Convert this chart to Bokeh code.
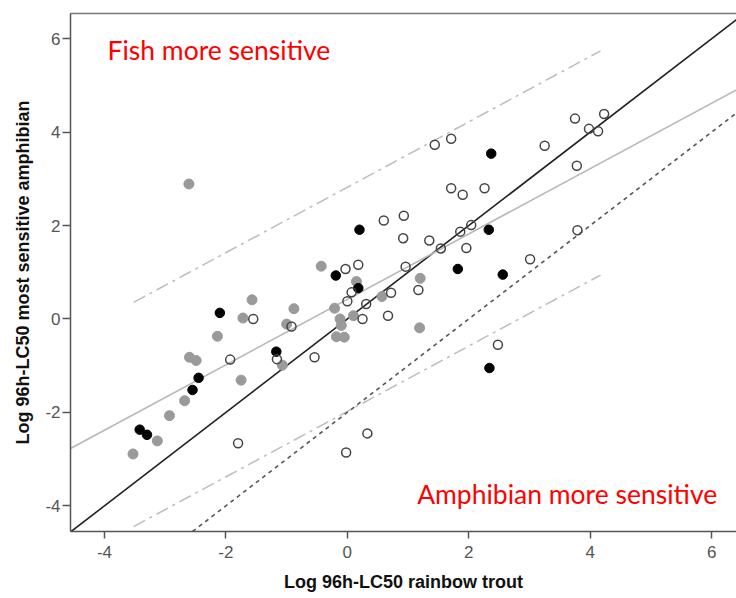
from bokeh.plotting import figure
from bokeh.models import Range1d, LinearAxis, FixedTicker
from bokeh.core.properties import value
from bokeh.embed import file_html
from bokeh.resources import INLINE

# ---- data (log 96h-LC50: rainbow trout vs most sensitive amphibian) ----
gray_x = [-2.61, -1.57, -1.72, -0.88, -2.14, -1.00, -2.60, -2.49, -1.75, -2.68, -2.93, -3.13,
          -3.53, -1.07, -0.43, -0.21, -0.12, -0.10, -0.18, -0.05, 0.15, 0.10, 0.57, 1.20, 1.19]
gray_y = [2.89, 0.41, 0.02, 0.22, -0.37, -0.11, -0.82, -0.89, -1.31, -1.75, -2.07, -2.61,
          -2.89, -0.99, 1.13, 0.23, 0.00, -0.14, -0.38, -0.39, 0.80, 0.07, 0.48, 0.87, -0.19]

black_x = [-2.10, -1.17, -2.45, -2.55, -3.42, -3.30, -0.19, 0.20, 0.18, 2.37, 2.33, 1.82, 2.56, 2.34]
black_y = [0.13, -0.70, -1.26, -1.52, -2.37, -2.48, 0.93, 1.91, 0.66, 3.54, 1.91, 1.07, 0.95, -1.05]

open_x = [-1.55, -0.92, -1.93, -1.16, -0.54, -1.80, -0.02, 0.33, -0.03, 0.18, 0.07, 0.00, 0.31,
          0.25, 0.67, 0.72, 0.60, 0.93, 0.92, 0.96, 1.17, 1.35, 1.54, 1.96, 1.86, 2.04, 1.44,
          1.71, 1.71, 1.90, 2.26, 3.01, 2.48, 3.25, 3.75, 4.23, 3.98, 4.13, 3.78, 3.79]
open_y = [0.00, -0.16, -0.87, -0.86, -0.82, -2.66, -2.86, -2.45, 1.07, 1.16, 0.57, 0.38, 0.32,
          0.00, 0.07, 0.56, 2.11, 2.21, 1.73, 1.12, 0.62, 1.68, 1.51, 1.52, 1.87, 2.01, 3.73,
          3.86, 2.80, 2.66, 2.80, 1.28, -0.55, 3.71, 4.29, 4.39, 4.07, 4.02, 3.28, 1.90]

# regression fit and prediction interval
reg_intercept = 0.42
reg_slope = 0.70
pi_half_width = 2.4
pi_x = [-3.52, 4.17]
# reference lines: 1:1 and 1:1 shifted by -2 (100-fold)
shift = -2.0

x_lo, x_hi = -4.56, 6.41
y_lo, y_hi = -4.55, 6.54

ticks = [-4, -2, 0, 2, 4, 6]
tick_labels = ["-4", "-2", "0", "2", "4", "6"]

label_texts = ["Fish more sensitive", "Amphibian more sensitive"]
label_x = [-3.95, 1.15]
label_y = [5.75, -3.75]

# ---- figure ----
p = figure(width=736, height=598, x_range=Range1d(x_lo, x_hi), y_range=Range1d(y_lo, y_hi),
           output_backend="svg", toolbar_location=None,
           min_border_left=70, min_border_right=0, min_border_top=13, min_border_bottom=67)
p.outline_line_color = None
p.xgrid.visible = False
p.ygrid.visible = False
p.background_fill_color = "white"
p.border_fill_color = "white"

overrides = {t: s for t, s in zip(ticks, tick_labels)}
for ax in (p.xaxis[0], p.yaxis[0]):
    ax.ticker = FixedTicker(ticks=ticks)
    ax.major_label_overrides = overrides
    ax.minor_tick_line_color = None
    ax.axis_line_color = "#555555"
    ax.axis_line_width = 1.5
    ax.major_tick_line_color = "#555555"
    ax.major_tick_line_width = 1.5
    ax.major_tick_in = 0
    ax.major_label_text_font = "Liberation Sans"
    ax.major_label_text_font_size = "17px"
    ax.major_label_text_color = "#555555"
    ax.axis_label_text_font = "Liberation Sans"
    ax.axis_label_text_font_style = "bold"
    ax.axis_label_text_font_size = "18px"
    ax.axis_label_text_color = "#111111"

p.xaxis[0].major_tick_out = 7
p.xaxis[0].major_label_standoff = 7
p.xaxis[0].axis_label = "Log 96h-LC50 rainbow trout"
p.xaxis[0].axis_label_standoff = 11
p.yaxis[0].major_tick_out = 8
p.yaxis[0].major_label_standoff = 2
p.yaxis[0].axis_label = "Log 96h-LC50 most sensitive amphibian"
p.yaxis[0].axis_label_standoff = 9

top = LinearAxis(ticker=FixedTicker(ticks=[]), axis_line_color="#777777", axis_line_width=1.5,
                 major_tick_line_color=None, minor_tick_line_color=None,
                 major_label_text_font_size="0px")
p.add_layout(top, "above")

# lines
full_x = [x_lo, x_hi]
p.line(full_x, [x + 0 for x in full_x], line_color="#222222", line_width=1.6)
p.line(full_x, [reg_intercept + reg_slope * x for x in full_x], line_color="#b8b8b8", line_width=1.6)
p.line(pi_x, [reg_intercept + reg_slope * x + pi_half_width for x in pi_x],
       line_color="#bdbdbd", line_width=1.5, line_dash="13 5 3 5")
p.line(pi_x, [reg_intercept + reg_slope * x - pi_half_width for x in pi_x],
       line_color="#bdbdbd", line_width=1.5, line_dash="13 5 3 5")
dx = [y_lo - shift, x_hi]
p.line(dx, [x + shift for x in dx], line_color="#555555", line_width=1.6, line_dash="4 4")

# points
p.scatter(gray_x, gray_y, size=10, fill_color="#9a9a9a", line_color="#9a9a9a")
p.scatter(black_x, black_y, size=9.5, fill_color="#000000", line_color="#000000")
p.scatter(open_x, open_y, size=9, fill_color="white", fill_alpha=0.0, line_color="#444444", line_width=1.5)

# annotations
p.text(label_x, label_y, text=label_texts, text_color="#ff0000", text_font=value("Lato"),
       text_font_size="26.5px", text_baseline="middle", text_align="left")

open("out.html", "w").write(file_html(p, INLINE))
